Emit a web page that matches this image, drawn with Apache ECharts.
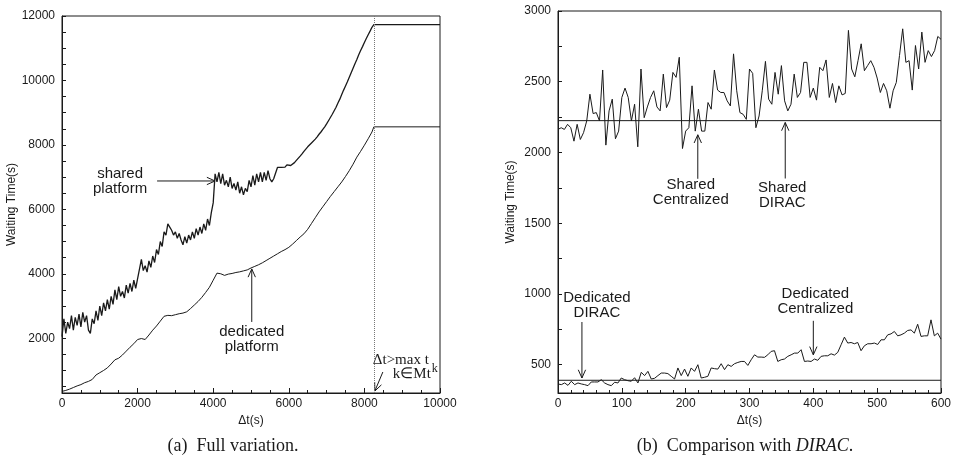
<!DOCTYPE html>
<html><head><meta charset="utf-8">
<script src="https://cdn.jsdelivr.net/npm/echarts@6/dist/echarts.min.js"></script>
<style>html,body{margin:0;padding:0;background:#fff}#c{width:954px;height:465px}</style>
</head><body><div id="c"></div><script>
// ---------- (a) Full variation ----------
const sharedPlatformStep = 50; // seconds between samples, from 0
const sharedPlatform = [2050,2600,2150,2500,2300,2700,2250,2650,2400,2750,
 2350,2800,2500,2700,2250,2150,2600,2450,2850,2550,
 3000,2700,3100,2850,3200,2900,3300,3050,3500,3200,
 3600,3300,3450,3250,3650,3400,3700,3450,3800,3550,
 3850,3900,4450,4100,4250,4050,4400,4200,4550,4350,
 4750,4600,5000,4850,5300,5200,5550,5450,5350,5200,
 5300,5100,5250,5050,4900,5150,4950,5200,5050,5300,
 5100,5400,5200,5450,5250,5550,5350,5700,5500,5900,
 6200,7100,6850,7150,6800,7100,6750,6900,6700,7000,
 6650,6800,6600,6850,6500,6700,6450,6650,6550,6900,
 6700,7050,6750,7100,6850,7150,6850,7150,6900,7200,
 6950,6850,6950,7000,7300,7350,7300,7360,7310,7380,
 7320,7360,7400,7450,7520,7580,7650,7720,7800,7870,
 7940,8000,8060,8120,8180,8250,8330,8400,8480,8560,
 8650,8750,8850,8950,9060,9170,9300,9420,9560,9700,
 9830,9960,10100,10240,10380,10520,10650,10800,10930,11050,
 11180,11300,11420,11530,11650,11730];
const sharedPlatformTail = [[10000, 11730]];

const dedicatedPlatformStep = 100;
const dedicatedPlatform = [350,380,420,470,520,560,620,660,720,860,
 930,1000,1080,1200,1330,1380,1480,1600,1720,1830,
 1960,1990,1960,2100,2250,2380,2530,2680,2710,2700,
 2730,2760,2780,2820,2920,3030,3140,3270,3420,3580,
 3800,4020,4000,3950,3990,4010,4040,4060,4090,4120,
 4180,4230,4280,4340,4410,4480,4550,4620,4690,4750,
 4820,4920,5030,5140,5240,5380,5560,5740,5920,6080,
 6240,6400,6550,6700,6850,7020,7200,7400,7620,7800,
 7990,8190,8400];
const dedicatedPlatformTail = [[8250, 8560], [10000, 8560]];
const maxTaskTime = 8250;

const aXLabels = [0,2000,4000,6000,8000,10000];
const aYLabels = [2000,4000,6000,8000,10000,12000];
const aYTicks = [500,1000,1500,2000,2500,3000,3500,4000,4500,5000,5500,6000,6500,7000,7500,8000,8500,9000,9500,10000,10500,11000,11500,12000];

// ---------- (b) Comparison with DIRAC ----------
const sharedCentralized = [2163,2175,2163,2199,2175,2080,2199,2092,2140,2223,
 2412,2275,2282,2223,2583,2052,2294,2377,2097,2151,
 2389,2455,2389,2223,2341,2040,2590,2246,2322,2389,
 2436,2322,2294,2554,2317,2370,2566,2531,2673,2028,
 2151,2175,2471,2151,2306,2151,2151,2353,2306,2583,
 2441,2424,2424,2365,2329,2697,2436,2282,2270,2234,
 2590,2559,2175,2258,2436,2644,2377,2341,2566,2412,
 2614,2365,2294,2341,2554,2389,2424,2637,2637,2389,
 2455,2370,2602,2578,2654,2389,2488,2353,2471,2407,
 2417,2863,2590,2535,2649,2768,2578,2614,2649,2602,
 2526,2424,2488,2436,2313,2436,2495,2685,2874,2637,
 2649,2441,2756,2590,2851,2637,2720,2678,2720,2820,2800];
const dedicatedCentralized = [364,359,371,354,383,359,371,364,359,352,
 378,378,378,394,371,359,352,376,371,406,
 394,387,383,408,371,446,423,453,399,404,
 423,441,441,437,418,399,477,423,469,418,
 477,453,500,406,411,418,477,472,469,507,
 465,500,488,507,516,523,523,495,535,570,
 554,554,552,570,594,599,523,535,540,559,
 570,582,582,606,523,526,523,540,531,559,
 563,563,577,568,587,641,695,653,657,648,
 657,599,634,648,648,653,643,676,676,711,
 718,735,704,711,723,742,746,723,786,700,
 704,704,817,704,723,681];
const sharedDIRAC = 2225;
const dedicatedDIRAC = 390;
const bXMax = 600;

const bXLabels = [0,100,200,300,400,500,600];
const bYLabels = [500,1000,1500,2000,2500,3000];
const bYTicks = [500,750,1000,1250,1500,1750,2000,2250,2500,2750,3000];

// ---------- build ----------
const withStep = (arr, step) => arr.map((v, i) => [i * step, v]);
const spread = (arr, xmax) => arr.map((v, i) => [i * xmax / (arr.length - 1), v]);

const INK = '#1a1a1a';
const SANS = '"Liberation Sans", Arial, Helvetica, sans-serif';
const SERIF = '"Liberation Serif", "Times New Roman", serif';
const plain = v => String(v);

const chart = echarts.init(document.getElementById('c'), null, {renderer: 'canvas'});

function xAxisCfg(gi, min, max, interval, minorSplit, labels) {
  return {
    type: 'value', gridIndex: gi, min, max, interval,
    name: 'Δt(s)', nameLocation: 'middle', nameGap: 16,
    nameTextStyle: {color: INK, fontSize: 12, fontFamily: SANS},
    axisLine: {lineStyle: {color: INK, width: 1}},
    axisTick: {inside: true, length: 5, lineStyle: {color: INK}},
    minorTick: {show: true, splitNumber: minorSplit, length: 3, lineStyle: {color: INK}},
    axisLabel: {color: INK, fontSize: 12, fontFamily: SANS, margin: 5, customValues: labels, formatter: plain},
    splitLine: {show: false}
  };
}
function yAxisCfg(gi, min, max, labels, ticks, gap) {
  return {
    type: 'value', gridIndex: gi, min, max,
    name: 'Waiting Time(s)', nameLocation: 'middle', nameGap: gap,
    nameTextStyle: {color: INK, fontSize: 12, fontFamily: SANS},
    axisLine: {lineStyle: {color: INK, width: 1}},
    axisTick: {inside: true, length: 4, customValues: ticks, lineStyle: {color: INK}},
    axisLabel: {color: INK, fontSize: 12, fontFamily: SANS, margin: 7, customValues: labels, formatter: plain},
    splitLine: {show: false}
  };
}
const lineS = (xi, yi, data, w) => ({
  type: 'line', xAxisIndex: xi, yAxisIndex: yi, data, symbol: 'none',
  lineStyle: {color: INK, width: w || 1}, silent: true, animation: false
});

const option = {
  animation: false,
  backgroundColor: '#fff',
  grid: [
    {left: 62, top: 16, width: 378, height: 377, show: true, borderColor: INK, borderWidth: 1},
    {left: 558, top: 11, width: 384, height: 382, show: true, borderColor: INK, borderWidth: 1}
  ],
  xAxis: [xAxisCfg(0, 0, 10000, 2000, 4, aXLabels), xAxisCfg(1, 0, bXMax, 100, 5, bXLabels)],
  yAxis: [yAxisCfg(0, 300, 12000, aYLabels, aYTicks, 40), yAxisCfg(1, 300, 3000, bYLabels, bYTicks, 41)],
  series: [
    lineS(0, 0, withStep(sharedPlatform, sharedPlatformStep).concat(sharedPlatformTail), 1.3),
    Object.assign(lineS(0, 0, withStep(dedicatedPlatform, dedicatedPlatformStep).concat(dedicatedPlatformTail)), {
      markLine: {silent: true, symbol: 'none', label: {show: false},
        lineStyle: {type: 'dotted', color: '#777', width: 1},
        data: [{xAxis: maxTaskTime}]}
    }),
    lineS(1, 1, spread(sharedCentralized, bXMax)),
    lineS(1, 1, spread(dedicatedCentralized, bXMax)),
    lineS(1, 1, [[0, sharedDIRAC], [bXMax, sharedDIRAC]]),
    lineS(1, 1, [[0, dedicatedDIRAC], [bXMax, dedicatedDIRAC]])
  ]
};
chart.setOption(option);

// ---------- annotations ----------
function arrow(tail, head) {
  const ang = Math.atan2(head[1] - tail[1], head[0] - tail[0]);
  const L = 9, a = 0.42;
  const h1 = [head[0] - L * Math.cos(ang - a), head[1] - L * Math.sin(ang - a)];
  const h2 = [head[0] - L * Math.cos(ang + a), head[1] - L * Math.sin(ang + a)];
  return [
    {type: 'polyline', silent: true, shape: {points: [tail, head]}, style: {stroke: INK, lineWidth: 1, fill: null}},
    {type: 'polyline', silent: true, shape: {points: [h1, head, h2]}, style: {stroke: INK, lineWidth: 1, fill: null}}
  ];
}
function label(x, y, text, font, align) {
  return {type: 'text', silent: true, x, y, style: {text, font, fill: INK, align: align || 'center', verticalAlign: 'middle', lineHeight: 15}};
}
const notes = [
  {g: 0, at: [4050, 6880], tail: [-58, 0], text: 'shared\nplatform', tx: -95, ty: 0},
  {g: 0, at: [5020, 4150], tail: [0, 53], text: 'dedicated\nplatform', tx: 0, ty: 70},
  {g: 1, at: [219, 2125], tail: [0, 44], text: 'Shared\nCentralized', tx: -7, ty: 58},
  {g: 1, at: [356, 2212], tail: [0, 56], text: 'Shared\nDIRAC', tx: -3, ty: 73},
  {g: 1, at: [37.5, 406], tail: [0, -56], text: 'Dedicated\nDIRAC', tx: 15, ty: -73},
  {g: 1, at: [400, 570], tail: [0, -34], text: 'Dedicated\nCentralized', tx: 2, ty: -53}
];
const els = [];
notes.forEach(n => {
  const p = chart.convertToPixel({gridIndex: n.g}, n.at);
  els.push(...arrow([p[0] + n.tail[0], p[1] + n.tail[1]], p));
  els.push(label(p[0] + n.tx, p[1] + n.ty, n.text, '15px ' + SANS));
});
const tp = chart.convertToPixel({gridIndex: 0}, [maxTaskTime, 300]);
els.push(...arrow([tp[0] + 9, tp[1] - 21], [tp[0] + 1, tp[1] - 2]));
els.push(label(tp[0] - 1, tp[1] - 33, 'Δt>max t', '15px ' + SERIF, 'left'));
els.push(label(tp[0] + 19, tp[1] - 19, 'k∈Mt', '15px ' + SERIF, 'left'));
els.push(label(tp[0] + 58, tp[1] - 24, 'k', '12px ' + SERIF, 'left'));
// captions
els.push({type: 'text', silent: true, x: 233, y: 446, style: {text: '(a)  Full variation.', font: '18px ' + SERIF, fill: INK, align: 'center', verticalAlign: 'middle'}});
els.push({type: 'text', silent: true, x: 745, y: 446, style: {
  text: '{n|(b)  Comparison with }{i|DIRAC}{n|.}', align: 'center', verticalAlign: 'middle',
  rich: {n: {font: '18px ' + SERIF, fill: INK}, i: {font: 'italic 18px ' + SERIF, fill: INK}}}});
chart.setOption({graphic: els});
</script></body></html>
